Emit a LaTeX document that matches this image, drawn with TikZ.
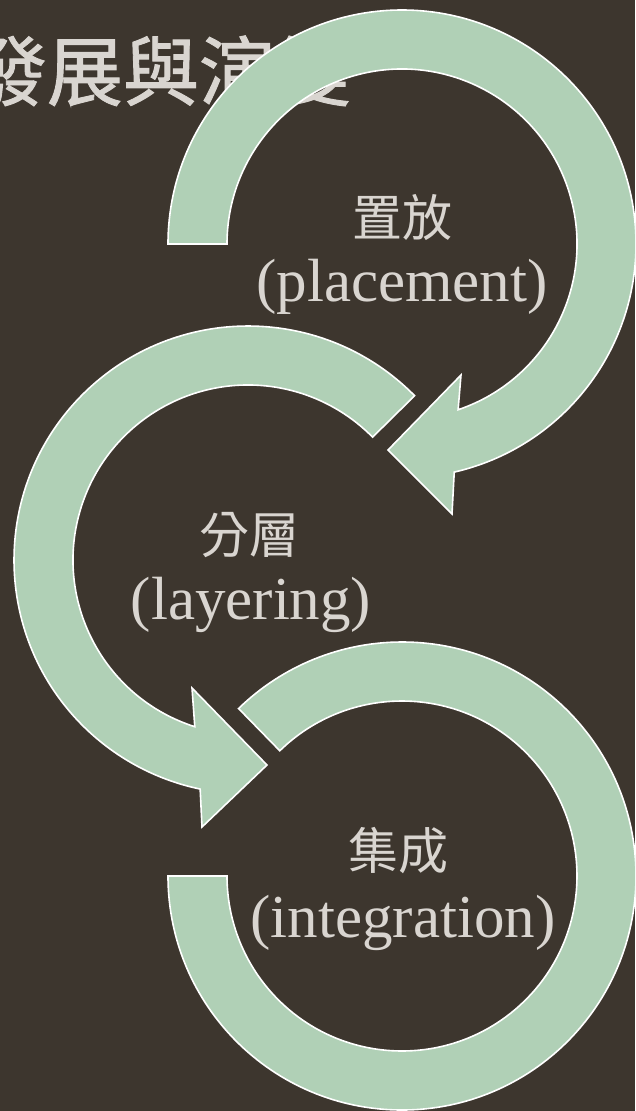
\documentclass[tikz,border=0pt]{standalone}
\usepackage{fontspec}
\setmainfont{Liberation Serif}
\newfontfamily\cjk{Noto Sans CJK TC}
\newfontfamily\cjktitle{Noto Sans CJK TC}[FakeBold=1.2]
\usetikzlibrary{calc}
\definecolor{bgc}{HTML}{3D362E}
\definecolor{bandc}{HTML}{B0D0B6}
\definecolor{txtc}{HTML}{D9D5D0}
\tikzset{
  bandshape/.style={fill=bandc, draw=white, line width=1.6pt, line join=miter},
  titletext/.style={text=txtc, inner sep=0pt, font=\cjktitle\fontsize{76}{90}\selectfont},
  cjklabel/.style={text=txtc, inner sep=0pt, font=\cjk\fontsize{50}{60}\selectfont},
  latlabel/.style={text=txtc, inner sep=0pt, font=\fontsize{61}{72}\selectfont}
}
\begin{document}
\begin{tikzpicture}[x=1pt,y=1pt]
\useasboundingbox (0,0) rectangle (635,-1111);
\fill[bgc] (0,0) rectangle (635,-1111);
\clip (0,0) rectangle (635,-1111);
\node[titletext] (title) at (161,-71) {發展與演變};
\coordinate (c1) at (402,-244);
\coordinate (c2) at (248,-560);
\coordinate (c3) at (402,-876);
% circle 1: placement
\path[bandshape] ($(c1)+(180:234)$) arc[start angle=180, end angle=-77.1, radius=234]
  -- (452,-514) -- (388,-450) -- (461,-375)
  -- ($(c1)+(-71.3:175)$) arc[start angle=-71.3, end angle=180, radius=175] -- cycle;
% circle 2: layering
\path[bandshape] ($(c2)+(44.6:234)$) arc[start angle=44.6, end angle=258.2, radius=234]
  -- (202,-827) -- (267,-765) -- (192,-688)
  -- ($(c2)+(252.3:175)$) arc[start angle=252.3, end angle=44.6, radius=175] -- cycle;
% circle 3: integration
\path[bandshape] ($(c3)+(180:234)$) arc[start angle=180, end angle=494.3, radius=234]
  -- ($(c3)+(494.3:175)$) arc[start angle=494.3, end angle=180, radius=175] -- cycle;
% labels
\node[cjklabel] (p1) at (402,-217) {置放};
\node[latlabel] (p2) at (402,-287) {(placement)};
\node[cjklabel] (l1) at (249,-535) {分層};
\node[latlabel] (l2) at (251,-605) {(layering)};
\node[cjklabel] (i1) at (398,-851) {集成};
\node[latlabel] (i2) at (403,-923) {(integration)};
\end{tikzpicture}
\end{document}
